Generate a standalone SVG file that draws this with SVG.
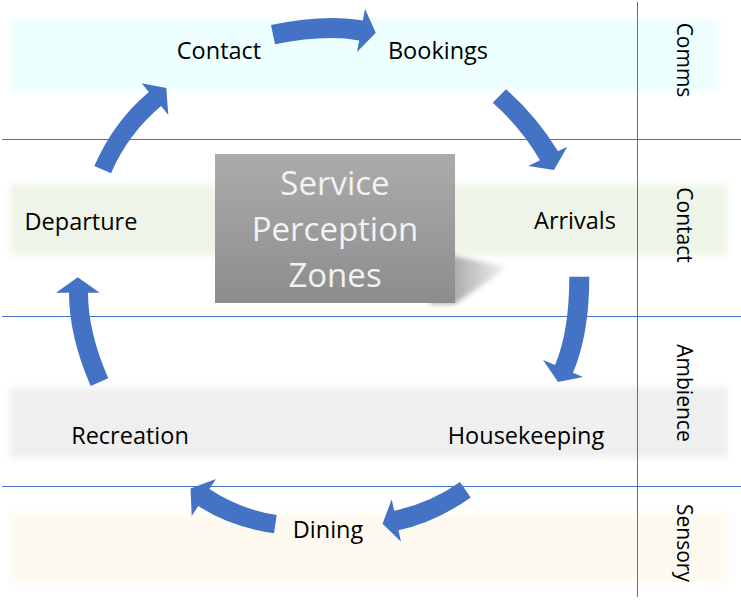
<svg xmlns="http://www.w3.org/2000/svg" width="741" height="601" viewBox="0 0 741 601">
  <defs>
    <filter id="soft" x="-5%" y="-20%" width="110%" height="140%">
      <feGaussianBlur stdDeviation="3"/>
    </filter>
    <filter id="shblur" x="-20%" y="-20%" width="140%" height="140%">
      <feGaussianBlur stdDeviation="2.5"/>
    </filter>
    <linearGradient id="boxGrad" x1="0" y1="0" x2="0" y2="1">
      <stop offset="0" stop-color="#ABABAB"/>
      <stop offset="1" stop-color="#8D8D8D"/>
    </linearGradient>
    <linearGradient id="shGrad" x1="455" y1="0" x2="508" y2="0" gradientUnits="userSpaceOnUse">
      <stop offset="0" stop-color="#ADADAD"/>
      <stop offset="1" stop-color="#F6F6F6"/>
    </linearGradient>
  </defs>
  <style>
    .lbl { font-family: "Open Sans", "Liberation Sans", sans-serif; font-size: 23.5px; fill: #000000; text-anchor: middle; }
    .side { font-family: "Open Sans", "Liberation Sans", sans-serif; font-size: 21px; fill: #000000; text-anchor: middle; }
    .title { font-family: "Open Sans", "Liberation Sans", sans-serif; font-size: 33px; fill: #F2F2F2; text-anchor: middle; }
    .grid { stroke: #4472C4; stroke-width: 1; fill: none; }
    .arrow { fill: #4472C4; stroke: none; }
  </style>

  <rect width="741" height="601" fill="#FFFFFF"/>

  <g id="bands" filter="url(#soft)">
    <rect x="10" y="20" width="709" height="71" fill="#EDFFFF"/>
    <rect x="10" y="184" width="718" height="71" fill="#EEF5E8"/>
    <rect x="10" y="387" width="718" height="71" fill="#EFEFEF"/>
    <rect x="10" y="513" width="718" height="70" fill="#FEFAF0"/>
  </g>

  <g id="gridlines">
    <line class="grid" x1="2" y1="139.5" x2="741" y2="139.5"/>
    <line class="grid" x1="2" y1="316.5" x2="741" y2="316.5"/>
    <line class="grid" x1="2" y1="486.5" x2="741" y2="486.5"/>
    <line class="grid" x1="637.5" y1="2" x2="637.5" y2="597"/>
  </g>

  <g id="center">
    <polygon points="430,251 508,267 455,304 430,304" fill="url(#shGrad)" filter="url(#shblur)"/>
    <rect x="215" y="154" width="240" height="149" fill="url(#boxGrad)"/>
    <text class="title" x="335" y="195">Service</text>
    <text class="title" x="335" y="241">Perception</text>
    <text class="title" x="335" y="287">Zones</text>
  </g>

  <g id="node-contact"><text class="lbl" x="219" y="59">Contact</text></g>
  <g id="node-bookings"><text class="lbl" x="438" y="59">Bookings</text></g>
  <g id="node-arrivals"><text class="lbl" x="575" y="229">Arrivals</text></g>
  <g id="node-housekeeping"><text class="lbl" x="526" y="444">Housekeeping</text></g>
  <g id="node-dining"><text class="lbl" x="328" y="538">Dining</text></g>
  <g id="node-recreation"><text class="lbl" x="130" y="444">Recreation</text></g>
  <g id="node-departure"><text class="lbl" x="81" y="230">Departure</text></g>

  <g id="zone-comms"><text class="side" transform="translate(677,60) rotate(90)">Comms</text></g>
  <g id="zone-contact"><text class="side" transform="translate(677,225) rotate(90)">Contact</text></g>
  <g id="zone-ambience"><text class="side" transform="translate(677,393) rotate(90)">Ambience</text></g>
  <g id="zone-sensory"><text class="side" transform="translate(677,543) rotate(90)">Sensory</text></g>

  <g id="connectors">
    <path class="arrow" d="M271,25 Q325.6,13.7 362.8,20.6 L365,9 L375.8,32.8 L357,52 L359.2,40.4 Q324.8,34 275,44.3 Z"/>
    <path class="arrow" d="M506,89.3 Q536.6,116.4 558,151.3 L567.3,146.7 L554,170 L528.3,166 L540,160.2 Q521,127.6 492.7,102.7 Z"/>
    <path class="arrow" d="M569.3,276.7 L589.3,276.7 Q589.3,334.3 573,372.75 L583,377 L558,382 L543,360 L555,365.1 Q569.3,331.3 569.3,276.7 Z"/>
    <path class="arrow" d="M460,482 Q430.8,502.8 394.2,510.8 L391.7,499.3 L382.6,523.8 L401,541.7 L398.5,530.3 Q436.2,522 470.7,497.5 Z"/>
    <path class="arrow" d="M276.7,515 Q240.9,509.7 209.4,489 L216,479 L190.5,488.5 L191.7,516 L198.3,506 Q229.9,526.8 274,533.3 Z"/>
    <path class="arrow" d="M90.7,386 Q69,336.3 69,292.7 L56,292.7 L77.8,277.3 L99.7,292.7 L88,292.7 Q88,331.8 108.3,378.3 Z"/>
    <path class="arrow" d="M94.3,166 Q113.7,121.4 148.9,91.9 L141.7,83.3 L166.3,88 L168.3,115 L161.1,106.1 Q128.3,133.6 111,173.3 Z"/>
  </g>
</svg>
